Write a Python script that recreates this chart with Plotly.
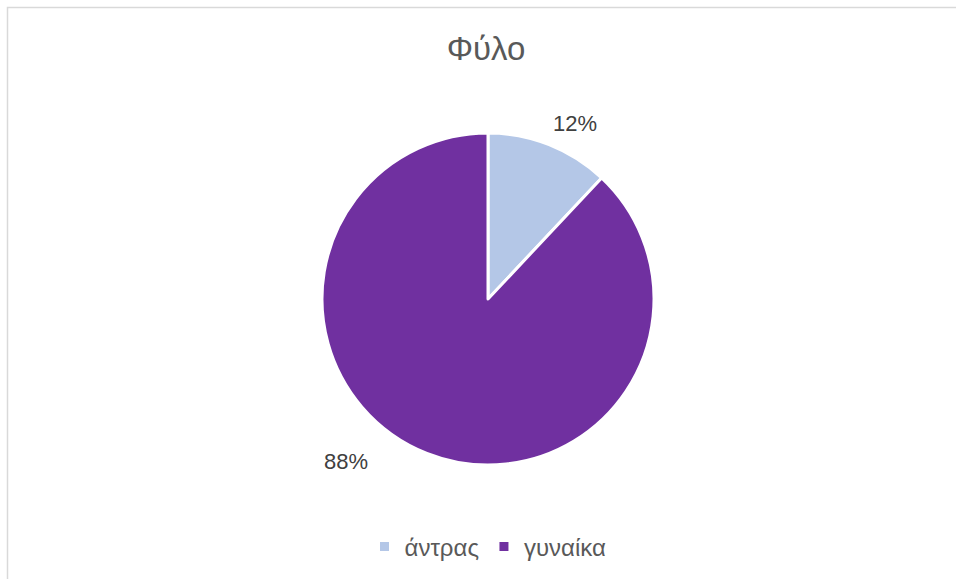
import plotly.graph_objects as go

# Survey respondents by gender (percent)
categories = ["άντρας", "γυναίκα"]
values = [12, 88]
colors = ["#B4C7E7", "#7030A0"]
title_text = "Φύλο"

W, H = 956, 579
FONT = "Liberation Sans, Arial, sans-serif"

fig = go.Figure()
fig.add_trace(go.Pie(
    labels=categories,
    values=values,
    sort=False,
    direction="clockwise",
    rotation=0,
    marker=dict(colors=colors, line=dict(color="white", width=3)),
    textinfo="none",
    hoverinfo="label+percent",
    domain=dict(x=[322 / W, 654 / W], y=[1 - 465 / H, 1 - 133 / H]),
))

# Percentage labels placed outside the slices
total = sum(values)
label_pos = [(575, 124), (346, 462)]
for v, (px, py) in zip(values, label_pos):
    fig.add_annotation(
        x=px / W, y=1 - py / H, xref="paper", yref="paper",
        text=f"{round(100 * v / total)}%", showarrow=False,
        font=dict(family=FONT, size=22, color="#404040"),
        xanchor="center", yanchor="middle",
    )

fig.update_layout(
    width=W, height=H,
    margin=dict(l=0, r=0, t=0, b=0),
    paper_bgcolor="white",
    plot_bgcolor="white",
    title=dict(
        text=title_text, x=486 / W, xanchor="center",
        y=1 - 48 / H, yanchor="middle",
        font=dict(family=FONT, size=33, color="#595959"),
    ),
    showlegend=True,
    legend=dict(
        orientation="h", x=488 / W, xanchor="center",
        y=1 - 547 / H, yanchor="middle",
        font=dict(family=FONT, size=24, color="#595959"),
        itemwidth=30,
        bgcolor="rgba(0,0,0,0)",
    ),
    shapes=[dict(
        type="rect", xref="paper", yref="paper",
        x0=7.5 / W, x1=1.2, y0=-0.2, y1=1 - 7.5 / H,
        line=dict(color="#D9D9D9", width=1.5),
        fillcolor="rgba(0,0,0,0)", layer="below",
    )],
)

fig.write_html("out.html")
